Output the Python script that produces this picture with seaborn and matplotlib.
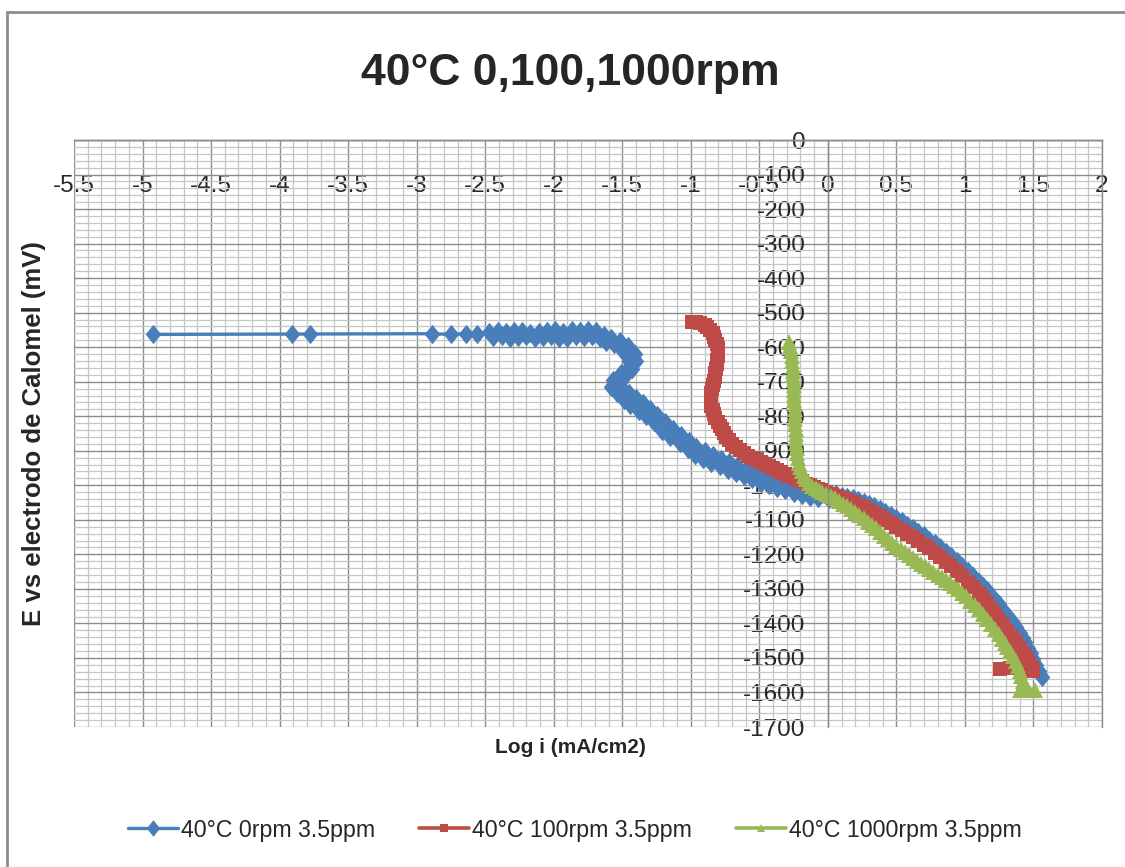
import matplotlib
matplotlib.use("Agg")
import matplotlib.pyplot as plt
from matplotlib.patches import Rectangle
from matplotlib.ticker import MultipleLocator, FormatStrFormatter
import pandas as pd
import seaborn as sns

title = "40°C 0,100,1000rpm"
x_label = "Log i (mA/cm2)"
y_label = "E vs electrodo de Calomel (mV)"
series_names = ["40°C 0rpm 3.5ppm", "40°C 100rpm 3.5ppm", "40°C 1000rpm 3.5ppm"]

# 0 rpm (Log i, E in mV)
logi_0 = [-4.92, -3.91, -3.78, -2.89, -2.75, -2.64, -2.56,
          -2.47, -2.44, -2.41, -2.38, -2.35, -2.32, -2.29, -2.26, -2.23, -2.20,
          -2.17, -2.14, -2.11, -2.08, -2.05, -2.02, -1.99, -1.96, -1.93, -1.90,
          -1.87, -1.84, -1.81, -1.78, -1.75, -1.72, -1.69, -1.66,
          -1.63, -1.62, -1.58, -1.56, -1.52, -1.51, -1.46, -1.47, -1.41, -1.45,
          -1.40, -1.46, -1.43, -1.51, -1.48, -1.57, -1.52, -1.58, -1.50, -1.54,
          -1.45, -1.49, -1.40, -1.44, -1.35, -1.38, -1.30, -1.33, -1.25, -1.27,
          -1.19, -1.21, -1.13, -1.15, -1.07, -1.08, -1.01, -1.02,
          -0.96, -0.97, -0.90, -0.91, -0.84, -0.85, -0.78, -0.79, -0.72, -0.73,
          -0.66, -0.67, -0.60, -0.61, -0.54, -0.55, -0.48, -0.49, -0.42, -0.43,
          -0.36, -0.37, -0.30, -0.31, -0.24, -0.25, -0.18, -0.19, -0.12, -0.13,
          -0.06, -0.07, 0.00, 0.01,
          0.06, 0.10, 0.14, 0.18, 0.22, 0.26, 0.30, 0.34, 0.38, 0.42, 0.46, 0.50,
          0.54, 0.58, 0.62, 0.66, 0.70, 0.74, 0.78, 0.82, 0.86, 0.90, 0.94, 0.98,
          1.02, 1.06, 1.10, 1.13, 1.16, 1.19, 1.22, 1.25, 1.28, 1.31, 1.34, 1.37,
          1.40, 1.42, 1.44, 1.46, 1.48, 1.50, 1.52, 1.54, 1.56]
e_0 = [-563, -562, -562, -561, -563, -561, -563,
       -556, -571, -553, -569, -557, -573, -554, -570, -552, -568,
       -558, -574, -555, -571, -553, -569, -551, -572, -556, -573,
       -550, -568, -552, -571, -549, -567, -553, -574,
       -566, -584, -572, -592, -582, -604, -598, -622, -620, -640,
       -640, -660, -662, -676, -684, -694, -704, -714, -718, -734,
       -732, -752, -748, -768, -763, -784, -778, -800, -795, -818,
       -818, -842, -836, -860, -854, -878, -872, -896,
       -889, -912, -902, -923, -913, -934, -923, -945, -933, -955,
       -943, -965, -952, -974, -961, -983, -970, -992, -977, -999,
       -985, -1007, -993, -1015, -1001, -1022, -1008, -1029, -1013, -1034,
       -1018, -1038, -1022, -1040,
       -1026, -1030, -1033, -1038, -1042, -1047, -1053, -1060, -1068, -1076, -1085, -1095,
       -1104, -1114, -1124, -1134, -1145, -1157, -1168, -1180, -1192, -1205, -1219, -1233,
       -1248, -1263, -1279, -1292, -1304, -1317, -1331, -1345, -1360, -1376, -1393, -1410,
       -1428, -1441, -1455, -1470, -1486, -1503, -1521, -1539, -1556]

# 100 rpm
logi_100 = [-0.99, -0.96, -0.93, -0.90, -0.88, -0.86, -0.84, -0.83, -0.82, -0.81,
            -0.805, -0.80, -0.805, -0.81, -0.81, -0.815, -0.82, -0.825, -0.83, -0.84,
            -0.845, -0.85, -0.855, -0.855, -0.85, -0.84, -0.83, -0.82, -0.805, -0.79,
            -0.775, -0.76, -0.74, -0.72, -0.70, -0.67, -0.64, -0.61, -0.58, -0.55,
            -0.52, -0.49, -0.46, -0.43, -0.40, -0.37, -0.34, -0.31, -0.28, -0.25,
            -0.22, -0.19, -0.16, -0.13, -0.10, -0.07, -0.04, -0.01, 0.02, 0.06,
            0.10, 0.14, 0.18, 0.22, 0.26, 0.30, 0.34, 0.38, 0.42, 0.46,
            0.50, 0.54, 0.58, 0.62, 0.66, 0.70, 0.74, 0.78, 0.82, 0.86,
            0.90, 0.94, 0.98, 1.02, 1.06, 1.10, 1.13, 1.16, 1.19, 1.22,
            1.25, 1.28, 1.31, 1.34, 1.37, 1.40, 1.43, 1.45, 1.47, 1.49,
            1.50, 1.33, 1.255]
e_100 = [-526, -527, -531, -536, -543, -551, -560, -570, -580, -591,
         -602, -614, -626, -638, -650, -662, -674, -686, -698, -710,
         -722, -734, -746, -758, -770, -782, -794, -805, -816, -827,
         -838, -849, -860, -870, -879, -888, -897, -906, -914, -921,
         -927, -933, -939, -944, -950, -955, -961, -967, -972, -978,
         -984, -989, -995, -1000, -1005, -1010, -1015, -1020, -1024, -1030,
         -1036, -1042, -1049, -1056, -1064, -1072, -1081, -1090, -1100, -1110,
         -1120, -1130, -1140, -1150, -1161, -1172, -1183, -1195, -1208, -1221,
         -1234, -1248, -1263, -1279, -1295, -1313, -1327, -1342, -1357, -1373,
         -1389, -1405, -1421, -1438, -1455, -1472, -1490, -1503, -1516, -1528,
         -1537, -1528, -1533]

# 1000 rpm
logi_1000 = [-0.28, -0.275, -0.27, -0.265, -0.26, -0.258, -0.255, -0.253, -0.25, -0.249,
             -0.247, -0.246, -0.245, -0.243, -0.242, -0.24, -0.239, -0.237, -0.236, -0.235,
             -0.233, -0.231, -0.228, -0.224, -0.219, -0.212, -0.203, -0.19, -0.175, -0.157,
             -0.137, -0.115, -0.09, -0.065, -0.04, -0.01, 0.02, 0.05, 0.08, 0.11,
             0.14, 0.17, 0.20, 0.23, 0.26, 0.29, 0.32, 0.35, 0.38, 0.41,
             0.44, 0.47, 0.50, 0.53, 0.56, 0.59, 0.62, 0.65, 0.68, 0.71,
             0.74, 0.77, 0.80, 0.83, 0.86, 0.89, 0.92, 0.95, 0.98, 1.01,
             1.04, 1.07, 1.10, 1.13, 1.16, 1.19, 1.22, 1.25, 1.27, 1.29,
             1.31, 1.33, 1.35, 1.37, 1.385, 1.40, 1.41, 1.42, 1.43, 1.40,
             1.46, 1.51, 1.44]
e_1000 = [-584, -598, -612, -626, -640, -654, -668, -682, -696, -710,
          -724, -738, -752, -766, -780, -794, -808, -822, -836, -850,
          -864, -878, -892, -906, -920, -934, -947, -960, -972, -983,
          -993, -1001, -1008, -1014, -1019, -1025, -1031, -1038, -1045, -1053,
          -1061, -1069, -1077, -1086, -1095, -1105, -1115, -1125, -1136, -1146,
          -1156, -1166, -1176, -1185, -1194, -1203, -1211, -1219, -1227, -1235,
          -1243, -1251, -1259, -1267, -1275, -1283, -1292, -1301, -1311, -1322,
          -1334, -1346, -1359, -1373, -1387, -1402, -1417, -1432, -1444, -1456,
          -1468, -1481, -1494, -1508, -1522, -1537, -1552, -1567, -1581, -1592,
          -1594, -1592, -1590]

sns.set_style("white")
plt.rcParams['font.family'] = ['Liberation Sans', 'DejaVu Sans']
plt.rcParams['axes.unicode_minus'] = False

fig = plt.figure(figsize=(11.25, 8.67), dpi=100)
ax = fig.add_axes([74 / 1125, 1 - 727 / 867, 1028 / 1125, 587 / 867])

diamond = [(0, 1), (0.8, 0), (0, -1), (-0.8, 0), (0, 1)]
styles = [
    dict(color='#4A7EBB', marker=diamond, markersize=14, linewidth=2.4),
    dict(color='#BE4B48', marker='s', markersize=10.5, linewidth=2.6),
    dict(color='#98B954', marker='^', markersize=11, linewidth=2.6),
]
data = [(logi_0, e_0), (logi_100, e_100), (logi_1000, e_1000)]

for (xs, ys), name, st in zip(data, series_names, styles):
    df = pd.DataFrame({'logi': xs, 'E': ys})
    sns.lineplot(data=df, x='logi', y='E', sort=False, estimator=None, ax=ax,
                 label=name, markeredgewidth=0, markeredgecolor=st['color'], **st)

ax.set_xlim(-5.5, 2)
ax.set_ylim(-1700, 0)
ax.xaxis.set_major_locator(MultipleLocator(0.5))
ax.xaxis.set_minor_locator(MultipleLocator(0.1))
ax.yaxis.set_major_locator(MultipleLocator(100))
ax.yaxis.set_minor_locator(MultipleLocator(20))
ax.xaxis.set_major_formatter(FormatStrFormatter('%g'))
ax.yaxis.set_major_formatter(FormatStrFormatter('%d'))

ax.grid(which='minor', color='#c6c6c6', linewidth=0.9)
ax.grid(which='major', color='#8c8c8c', linewidth=1.0)
ax.set_axisbelow(True)

# axes cross at (0, 0) like the Excel chart
ax.spines['left'].set_position(('data', 0))
ax.spines['bottom'].set_position(('data', 0))
for sp in ax.spines.values():
    sp.set_color('#8c8c8c')
    sp.set_linewidth(1.0)

ax.tick_params(axis='x', which='both', length=0, pad=25, labelsize=17.5)
ax.tick_params(axis='y', which='both', length=0, pad=16, labelsize=17.5)

ax.set_xlabel(x_label, fontsize=15, fontweight='bold')
ax.set_ylabel(y_label, fontsize=18.5, fontweight='bold')
ax.xaxis.set_label_coords((570 - 74) / 1028, -0.019)
ax.yaxis.set_label_coords((46 - 74) / 1028, 0.5)

fig.text(0.507, 1 - 73 / 867, title, ha='center', va='center',
         fontsize=32, fontweight='bold')

leg = ax.legend(loc='center', bbox_to_anchor=(0.511, 1 - 830 / 867),
                bbox_transform=fig.transFigure, ncol=3, frameon=False,
                fontsize=16.7, handlelength=2.15, handletextpad=0.13,
                columnspacing=1.9)
for h, ms in zip(leg.legend_handles, [12, 6, 6]):
    h.set_markersize(ms)

fig.patches.append(Rectangle((7 / 1125, -0.1), 1.2, 1.1 - 12 / 867,
                             transform=fig.transFigure, fill=False,
                             edgecolor='#8c8c8c', linewidth=2, clip_on=False))

fig.savefig('out.png', dpi=100)
plt.close(fig)
